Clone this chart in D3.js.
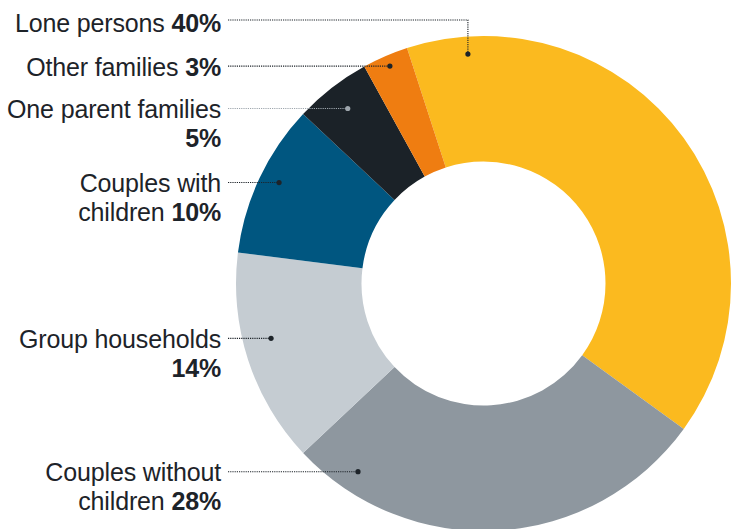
<!DOCTYPE html>
<html>
<head>
<meta charset="utf-8">
<script src="https://cdn.jsdelivr.net/npm/d3@7"></script>
<style>
  html, body { margin: 0; padding: 0; background: #ffffff; }
  svg { display: block; }
  text { font-family: "Liberation Sans", Arial, Helvetica, sans-serif; fill: #1d2329; letter-spacing: -0.15px; }
</style>
</head>
<body>
<div id="chart"></div>
<script>
// Household composition (share of households, %)
const categories = [
  "Lone persons",
  "Couples without children",
  "Group households",
  "Couples with children",
  "One parent families",
  "Other families"
];
const values = [40, 28, 14, 10, 5, 3];
const valueLabels = ["40%", "28%", "14%", "10%", "5%", "3%"];
const colors = ["#fbba1f", "#8e979f", "#c5ccd2", "#005680", "#1b2228", "#ef7d11"];

// Label placement: text lines, where the leader dot sits inside its slice
// (t = fraction along the slice's arc, r = radius in px)
const labelLayout = {
  "Lone persons":             { lines: ["Lone persons"], t: 0.098, r: 230, elbowY: 20, textY: 32 },
  "Other families":           { lines: ["Other families"], t: 0.51, r: 236.7 },
  "One parent families":      { lines: ["One parent families", ""], t: 0.5, r: 221.5, muted: true },
  "Couples with children":    { lines: ["Couples with", "children"], t: 0.53, r: 228 },
  "Group households":         { lines: ["Group households", ""], t: 0.57, r: 219.4 },
  "Couples without children": { lines: ["Couples without", "children"], t: 0.87, r: 226.2 }
};

const width = 737, height = 529;
const cx = 483.5, cy = 283.5;
const outerR = 247.5, innerR = 122;
const labelRight = 221, lineStart = 228;
const fontSize = 25, lineGap = 29;
const ink = "#1d2329", mutedInk = "#9ea6ad";

const svg = d3.select("#chart").append("svg")
  .attr("width", width).attr("height", height);

const startAngle = -18 * Math.PI / 180;
const pie = d3.pie().sort(null).value(d => d.value)
  .startAngle(startAngle).endAngle(startAngle + 2 * Math.PI);
const data = categories.map((c, i) => ({ category: c, value: values[i], label: valueLabels[i], color: colors[i] }));
const arcs = pie(data);
const arc = d3.arc().innerRadius(innerR).outerRadius(outerR);

const g = svg.append("g").attr("transform", `translate(${cx},${cy})`);
g.selectAll("path.slice").data(arcs).join("path")
  .attr("class", "slice")
  .attr("d", arc)
  .attr("fill", d => d.data.color);

// Leaders and labels
const leaders = svg.append("g");
const labels = svg.append("g");

arcs.forEach(a => {
  const L = labelLayout[a.data.category];
  const ang = a.startAngle + L.t * (a.endAngle - a.startAngle);
  const dx = cx + L.r * Math.sin(ang);
  const dy = cy - L.r * Math.cos(ang);
  const col = L.muted ? mutedInk : ink;
  const lineY = L.elbowY !== undefined ? L.elbowY : dy;

  const pts = L.elbowY !== undefined
    ? [[lineStart, lineY], [dx, lineY], [dx, dy]]
    : [[lineStart, lineY], [dx, dy]];
  leaders.append("path")
    .attr("d", d3.line()(pts))
    .attr("fill", "none")
    .attr("stroke", col)
    .attr("stroke-width", 1.1)
    .attr("stroke-dasharray", "1.2,1");
  leaders.append("circle")
    .attr("cx", dx).attr("cy", dy).attr("r", 2.6)
    .attr("fill", col);

  const baseline = L.textY !== undefined ? L.textY : lineY + 9.5;
  L.lines.forEach((ln, i) => {
    const isLast = i === L.lines.length - 1;
    const t = labels.append("text")
      .attr("x", labelRight)
      .attr("y", baseline + i * lineGap)
      .attr("text-anchor", "end")
      .attr("font-size", fontSize);
    if (ln) t.append("tspan").text(isLast ? ln + " " : ln);
    if (isLast) t.append("tspan").attr("font-weight", "bold").text(a.data.label);
  });
});
</script>
</body>
</html>
